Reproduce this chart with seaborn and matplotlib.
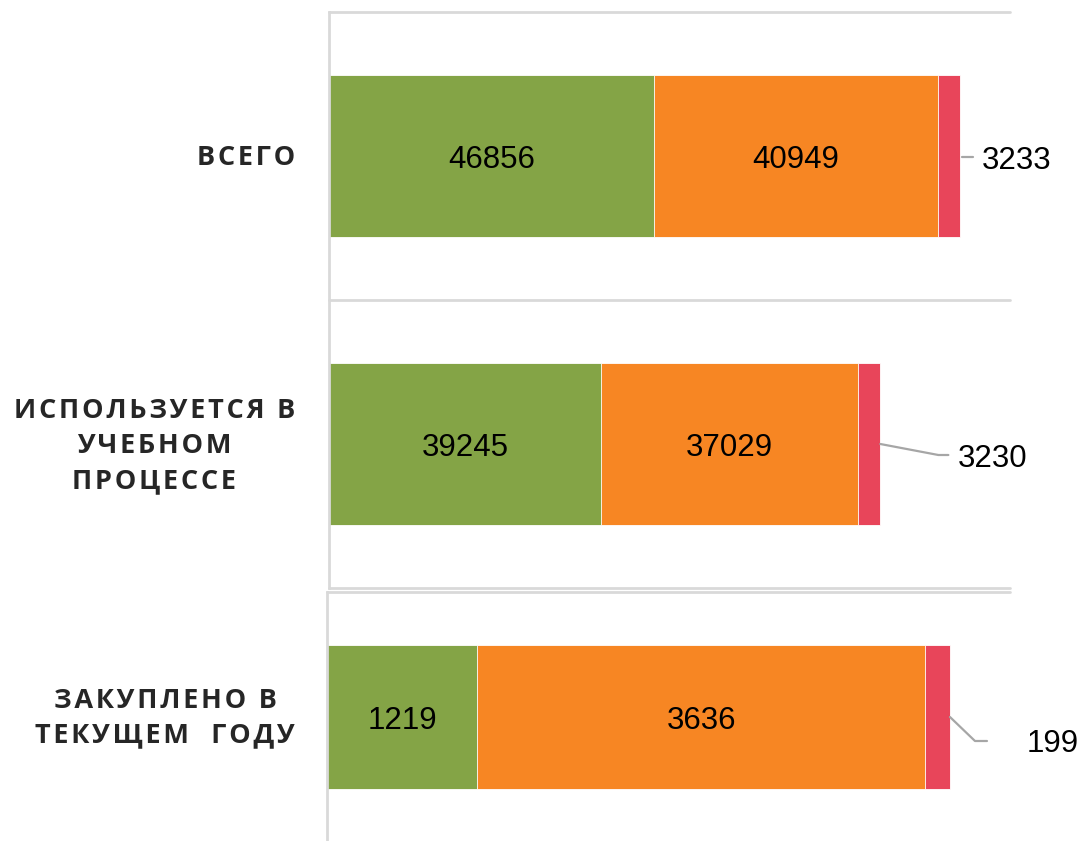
import matplotlib
matplotlib.use("Agg")
import matplotlib.pyplot as plt
import seaborn as sns
import numpy as np
import pandas as pd
from matplotlib.lines import Line2D
from matplotlib.transforms import IdentityTransform

sns.set_theme(style="white")
plt.rcParams['font.family'] = ['Liberation Sans', 'DejaVu Sans']

# ---- data ----
categories_top = ["ВСЕГО", "ИСПОЛЬЗУЕТСЯ В\nУЧЕБНОМ\nПРОЦЕССЕ"]
green_top = [46856, 39245]
orange_top = [40949, 37029]
red_top = [3233, 3230]

categories_bottom = ["ЗАКУПЛЕНО В\nТЕКУЩЕМ  ГОДУ"]
green_bottom = [1219]
orange_bottom = [3636]
red_bottom = [199]

GREEN = "#84A446"
ORANGE = "#F78623"
RED = "#E8455A"
GRID = "#D9D9D9"

W, H = 1080, 841
fig = plt.figure(figsize=(W / 100, H / 100), dpi=100)

ax_top = fig.add_axes([329 / W, 1 - 588 / H, (1010 - 329) / W, (588 - 12) / H])
ax_bot = fig.add_axes([327 / W, 1 - 842 / H, (1010 - 327) / W, (842 - 592) / H])

NUM_FS = 22.5


def draw_stack(ax, cats, g, o, r, width, xmax):
    keys = [f"c{i}" for i in range(len(cats))]
    df = pd.DataFrame({"cat": keys, "g": g, "o": o, "r": r})
    df["c1"] = df["g"]
    df["c2"] = df["g"] + df["o"]
    df["c3"] = df["g"] + df["o"] + df["r"]
    for col, colr in [("c3", RED), ("c2", ORANGE), ("c1", GREEN)]:
        sns.barplot(data=df, x=col, y="cat", orient="h", color=colr,
                    width=width, ax=ax, saturation=1, edgecolor="white",
                    linewidth=0.6, order=keys)
    ax.set_xlim(0, xmax)
    n = len(cats)
    ax.set_ylim(n - 0.5, -0.5)
    for yy in np.arange(-0.5, n, 1.0):
        ax.axhline(yy, color=GRID, lw=2, zorder=0, clip_on=False)
    for s in ["top", "right", "bottom"]:
        ax.spines[s].set_visible(False)
    ax.spines["left"].set_color(GRID)
    ax.spines["left"].set_linewidth(2)
    ax.set_xticks([])
    ax.set_yticks([])
    ax.set_xlabel("")
    ax.set_ylabel("")
    ax.patch.set_alpha(0)
    # in-bar labels
    for i in range(n):
        ax.annotate(str(df["g"][i]), (df["g"][i] / 2, i), xytext=(0, -4),
                    textcoords="offset pixels", ha="center", va="center",
                    fontsize=NUM_FS, color="black")
        ax.annotate(str(df["o"][i]), (df["g"][i] + df["o"][i] / 2, i), xytext=(0, -4),
                    textcoords="offset pixels", ha="center", va="center",
                    fontsize=NUM_FS, color="black")
    return df


df_top = draw_stack(ax_top, categories_top, green_top, orange_top, red_top, 0.5625, 98200)
df_bot = draw_stack(ax_bot, categories_bottom, green_bottom, orange_bottom, red_bottom, 0.576, 5541)

fig.canvas.draw()


def leader(ax, total, i, label, pts, text_dx, text_dy):
    # pts: list of pixel offsets (dx, dy-down) relative to bar end
    x0, y0 = ax.transData.transform((total, i))
    xs = [x0 + p[0] for p in pts]
    ys = [y0 - p[1] for p in pts]
    fig.add_artist(Line2D(xs, ys, transform=IdentityTransform(), color="#A6A6A6", lw=1.6))
    fig.text((x0 + text_dx) / W, (y0 - text_dy) / H, label, ha="left", va="center",
             fontsize=NUM_FS, color="black")


leader(ax_top, df_top["c3"][0], 0, str(red_top[0]), [(2, 1), (13, 1)], 21, 5)
leader(ax_top, df_top["c3"][1], 1, str(red_top[1]), [(0, 0), (58, 11), (68, 11)], 77, 15)
leader(ax_bot, df_bot["c3"][0], 0, str(red_bottom[0]), [(0, 0), (25, 24), (37, 24)], 77, 27)

# category labels
cat_font = dict(family=["Open Sans", "DejaVu Sans"], fontsize=19.5, fontweight="bold",
                color="#262626", ha="right", va="center", multialignment="center",
                linespacing=1.45)


def spaced(s):
    return "\n".join("\u200a".join(list(line)) for line in s.split("\n"))


for i, c in enumerate(categories_top):
    _, yd = ax_top.transData.transform((0, i))
    fig.text(295 / W, (yd - 2) / H, spaced(c), **cat_font)
for i, c in enumerate(categories_bottom):
    _, yd = ax_bot.transData.transform((0, i))
    fig.text(295 / W, (yd - 1) / H, spaced(c), **cat_font)

fig.savefig("out.png", dpi=100)
